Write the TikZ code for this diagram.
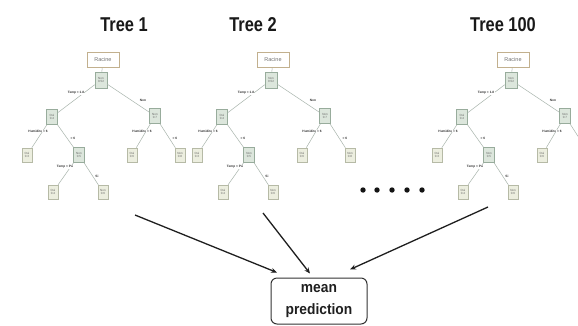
\documentclass[tikz,border=0pt]{standalone}
\usepackage{fontspec}
\usepackage{graphicx}
\setmainfont{Liberation Sans}
\usetikzlibrary{arrows.meta}
\definecolor{nodefill}{HTML}{DCE6DC}
\definecolor{nodedraw}{HTML}{98AC9C}
\definecolor{leaffill}{HTML}{ECEEDF}
\definecolor{leafdraw}{HTML}{B6BAA6}
\definecolor{racdraw}{HTML}{C2B08E}
\definecolor{edgecol}{HTML}{A8B4AC}
\tikzset{
  ttl/.style={font=\bfseries\fontsize{20}{20}\selectfont, text=black!90, inner sep=0pt},
  tnode/.style={draw=nodedraw, fill=nodefill, line width=0.5pt, minimum width=11pt, minimum height=15pt, inner sep=0pt, font=\fontsize{3}{3.6}\selectfont, text=black!60, align=center},
  leaf/.style={tnode, fill=leaffill, draw=leafdraw, minimum width=10pt, minimum height=14pt},
  racine/.style={draw=racdraw, line width=0.6pt, minimum width=32pt, minimum height=15pt, inner sep=0pt, font=\fontsize{5.5}{6}\selectfont, text=black!55},
  elab/.style={font=\bfseries\fontsize{3.2}{3.5}\selectfont, text=black!80, fill=white, inner sep=0.3pt},
  tedge/.style={draw=edgecol, line width=0.5pt},
  arr/.style={draw=black!88, line width=1.3pt, -{Stealth[length=6pt,width=5pt]}},
  meanbox/.style={draw=black!80, line width=1pt, rounded corners=6pt, minimum width=96pt, minimum height=46pt, inner sep=0pt, align=center, font=\bfseries\fontsize{15}{22}\selectfont, text=black!88}
}
\begin{document}
\begin{tikzpicture}[x=1pt,y=-1pt]
\clip (0,0) rectangle (578,325);
\fill[white] (0,0) rectangle (578,325);
% titles
\node[ttl] (t1) at (124,25) {\scalebox{0.82}[1]{Tree 1}};
\node[ttl] (t2) at (253,25) {\scalebox{0.82}[1]{Tree 2}};
\node[ttl] (t3) at (503,25) {\scalebox{0.82}[1]{Tree 100}};
% trees
\foreach \sx/\p in {0/a,170/b,410/c}{
\begin{scope}[xshift=\sx pt, name prefix=\p-]
  \node[racine] (rac) at (103,60) {Racine};
  \node[tnode, minimum width=12pt, minimum height=16pt] (r) at (101,80) {Non\\0.52};
  \node[tnode] (n1) at (52,117) {Oui\\0.4};
  \node[tnode] (n2) at (155,116) {Non\\0.7};
  \node[leaf] (l1) at (27,155) {Oui\\0.3};
  \node[tnode] (n3) at (79,155) {Non\\0.5};
  \node[leaf] (l2) at (132,155) {Oui\\0.6};
  \node[leaf] (l4) at (53,192) {Oui\\0.4};
  \node[leaf] (l5) at (103,192) {Non\\0.6};
  \draw[tedge] (rac) -- (r);
  \draw[tedge] (r) -- (n1);
  \draw[tedge] (r) -- (n2);
  \draw[tedge] (n1) -- (l1);
  \draw[tedge] (n1) -- (n3);
  \draw[tedge] (n2) -- (l2);
  \draw[tedge] (n3) -- (l4);
  \draw[tedge] (n3) -- (l5);
  \ifnum\sx<400
    \node[leaf] (l3) at (180,155) {Non\\0.8};
    \draw[tedge] (n2) -- (l3);
    \node[elab] (e6) at (175,138) {> 6};
  \else
    \coordinate (l3) at (180,155);
    \draw[tedge] (n2) -- (l3);
  \fi
  \node[elab] (e1) at (76,93) {Temp < 1.8};
  \node[elab] (e2) at (143,100) {Non};
  \node[elab] (e3) at (38,131) {Humidite < 6};
  \node[elab] (e4) at (73,138) {> 6};
  \node[elab] (e5) at (142,131) {Humidite < 6};
  \node[elab] (e7) at (65,167) {Temp < Pu};
  \node[elab] (e8) at (97,176) {Si};
\end{scope}
}
% dots
\foreach \dx in {363,377,392,407,422}{
  \fill[black!92] (\dx,190) circle (2.7);
}
% mean prediction
\node[meanbox] (mean) at (319,301) {\scalebox{0.92}[1]{mean}\\\scalebox{0.92}[1]{prediction}};
\coordinate (s1) at (135,215);
\coordinate (s2) at (263,213);
\coordinate (s3) at (488,207);
\draw[arr] (s1) -- ([xshift=-42pt,yshift=5pt]mean.north);
\draw[arr] (s2) -- ([xshift=-9pt,yshift=4pt]mean.north);
\draw[arr] (s3) -- ([xshift=31pt,yshift=8pt]mean.north);
\end{tikzpicture}
\end{document}
